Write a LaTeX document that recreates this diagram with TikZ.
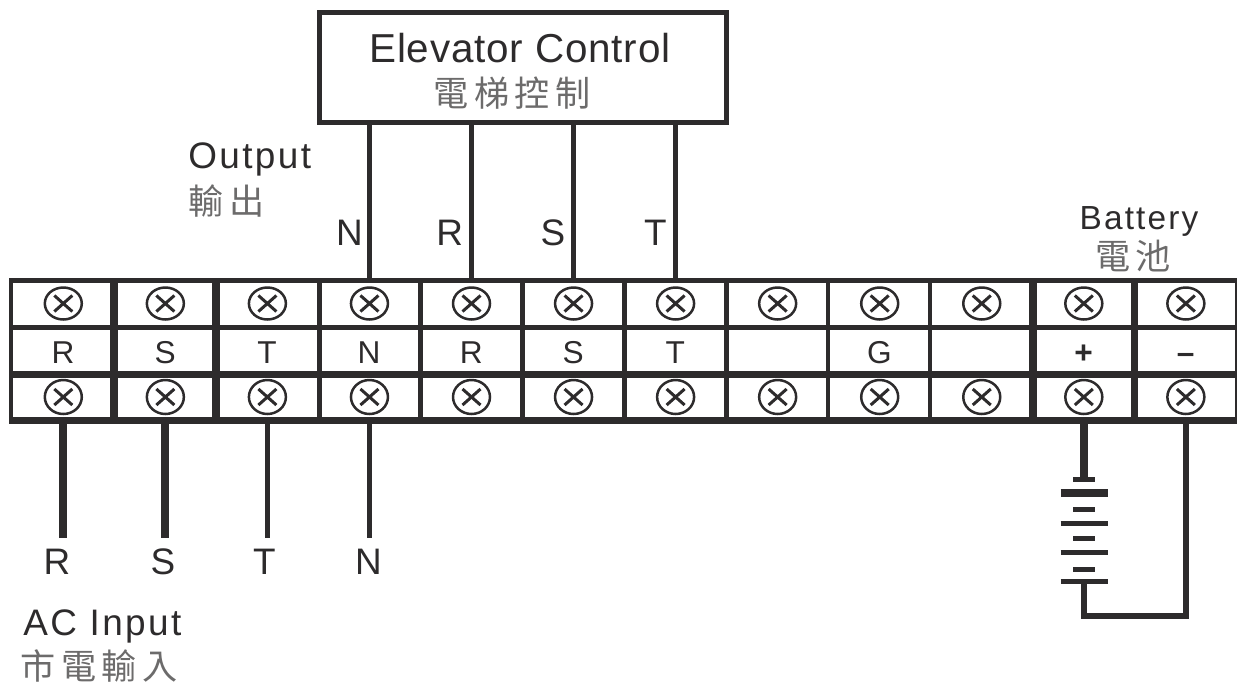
\documentclass[tikz,border=0pt]{standalone}
\usepackage{fontspec}
\setmainfont{Liberation Sans}
\newfontfamily\widefont[LetterSpace=6.5]{Liberation Sans}
\newfontfamily\titlefont[LetterSpace=2]{Liberation Sans}
\newfontfamily\cjkfont[LetterSpace=16]{Noto Sans CJK TC}
\usetikzlibrary{calc,positioning,shapes.geometric}
\definecolor{inkc}{HTML}{2D2B2C}
\tikzset{
screw/.style={ellipse,draw=inkc,line width=0.05cm,minimum width=0.74cm,minimum height=0.64cm,inner sep=0pt,outer sep=0.1cm,
  path picture={\draw[inkc,line width=0.06cm] (-9,-8)--(9,8) (-9,8)--(9,-8);}},
cjk/.style={inner sep=0pt,text=inkc!70,font=\cjkfont\fontsize{20}{20}\selectfont},
title/.style={inner sep=0pt,anchor=base,text=inkc,font=\titlefont\fontsize{23}{23}\selectfont},
wide/.style={inner sep=0pt,text=inkc,font=\widefont\fontsize{21}{21}\selectfont},
wirelbl/.style={inner sep=0pt,anchor=base,text=inkc,font=\fontsize{21}{21}\selectfont},
celllbl/.style={inner sep=0pt,anchor=base,text=inkc,font=\fontsize{18}{18}\selectfont},
wire/.style={draw=inkc,line width=0.1cm}
}
\begin{document}
\begin{tikzpicture}[x=0.02cm,y=-0.02cm]
\useasboundingbox (0,0) rectangle (1237,687);
% terminal strip
\foreach \y/\w in {280.5/0.1,327/0.1,374.5/0.15,420.5/0.15}
  \draw[inkc,line width=\w cm] (9,\y)--(1237,\y);
\foreach \x/\w in {11/0.09,114/0.16,216/0.15,319/0.1,420.5/0.09,522.5/0.09,624.5/0.09,726.5/0.09,828/0.09,930/0.09,1033/0.15,1134.5/0.14,1236/0.04}
  \draw[inkc,line width=\w cm] (\x,278)--(\x,424);
\foreach \i/\t in {1/R,2/S,3/T,4/N,5/R,6/S,7/T,8/{},9/G,10/{},11/\textbf{+},12/\textbf{--}}{
  \node[screw] (top\i) at ({63.3+102.05*(\i-1)},303.5) {};
  \node[screw,minimum height=0.68cm] (bot\i) at ({63.3+102.05*(\i-1)},397) {};
  \node[celllbl] (mid\i) at ({63+102.05*(\i-1)},363) {\t};
}
% elevator control box
\node[draw=inkc,line width=0.1cm,minimum width=8.14cm,minimum height=2.22cm,inner sep=0pt] (ctrl) at (523,67.5) {};
\node[title] (ctrlen) at (520,62.3) {Elevator Control};
\node[cjk] (ctrlzh) at (512,93) {電梯控制};
\foreach \i/\t/\lx in {4/N/349.5,5/R/449.6,6/S/553,7/T/655.5}{
  \draw[wire] (top\i |- ctrl.south)--(top\i.north);
  \node[wirelbl] (out\t) at (\lx,245) {\t};
}
\node[wide,anchor=base west] (outen) at (188,168.3) {Output};
\node[cjk,anchor=west] (outzh) at (188,201) {輸出};
% ac input
\foreach \i/\t/\lx/\w in {1/R/57/0.16,2/S/163/0.16,3/T/264.5/0.09,4/N/368.5/0.1}{
  \coordinate (end\i) at (bot\i.south |- 0,537.7);
  \draw[wire,line width=\w cm] (bot\i.south)--(end\i);
  \node[wirelbl] (in\t) at (\lx,574.3) {\t};
}
\node[wide,anchor=base west] (acen) at (23,635) {AC Input};
\node[cjk,anchor=west] (aczh) at (20,666) {市電輸入};
% battery
\node[wide,anchor=base,font=\widefont\fontsize{19}{19}\selectfont] (baten) at (1139,229) {Battery};
\node[cjk] (batzh) at (1133,256) {電池};
\foreach \y/\w/\h in {479.3/22/0.105,493/47/0.16,509.5/22/0.1,523.5/47/0.1,538.5/22/0.1,552.5/47/0.1,569.5/22/0.1,581.5/47/0.1}
  \draw[inkc,line width=\h cm] ({1084-\w/2},\y)--({1084+\w/2},\y);
\coordinate (batT) at (bot11.south |- 0,477);
\coordinate (batB) at (bot11.south |- 0,583);
\draw[wire,line width=0.155cm] (bot11.south)--(batT);
\draw[wire,line width=0.12cm] (batB)--++(0,32.5)-|(bot12.south);
\end{tikzpicture}
\end{document}
